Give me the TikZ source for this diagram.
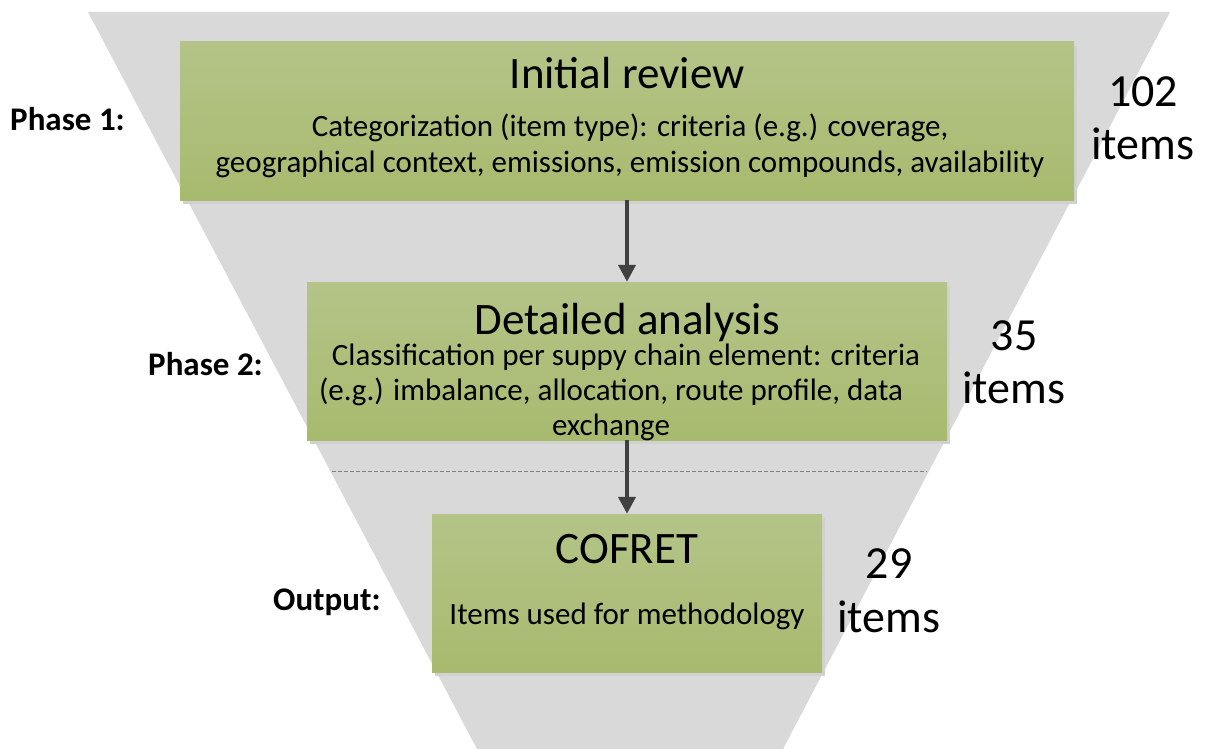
\documentclass[tikz,border=0pt]{standalone}
\usepackage{fontspec}
\setmainfont{Carlito}
\usetikzlibrary{arrows.meta,shadows}
\definecolor{funnel}{HTML}{D9D9D9}
\definecolor{boxtop}{HTML}{B4C488}
\definecolor{boxbot}{HTML}{A8BA6E}
\definecolor{arrowc}{HTML}{404040}
\tikzset{
  greenbox/.style={inner sep=0pt, top color=boxtop, bottom color=boxbot,
    general shadow={fill=black!18, shadow xshift=3pt, shadow yshift=-4pt}},
  title/.style={anchor=base, font=\fontsize{45}{52}\selectfont, inner sep=0pt},
  body/.style={anchor=base, font=\fontsize{31}{35}\selectfont, inner sep=0pt, align=center},
  count/.style={anchor=base, font=\fontsize{46}{52}\selectfont, inner sep=0pt},
  phase/.style={anchor=base west, font=\fontsize{33}{38}\selectfont\bfseries, inner sep=0pt},
  arr/.style={draw=arrowc, line width=4pt, -{Triangle[width=17pt,length=17pt]}},
}
\begin{document}
\begin{tikzpicture}[x=1pt,y=-1pt]
\useasboundingbox (0,0) rectangle (1205,749);
\fill[funnel] (88,12) -- (1170,12) -- (783,749) -- (477,749) -- cycle;
\node[greenbox, minimum width=894pt, minimum height=158pt] (b1) at (627,121) {};
\node[greenbox, minimum width=640pt, minimum height=158pt] (b2) at (627,361) {};
\node[greenbox, minimum width=390pt, minimum height=158pt] (b3) at (627,593) {};
\coordinate (d1) at (332,471);
\coordinate (d2) at (927,471);
\draw[gray, line width=0.8pt, dash pattern=on 4pt off 2pt] (d1) -- (d2);
\draw[arr] (b1.south) -- (b2.north);
\draw[arr] (b2.south) -- (b3.north);
\node[title] (t1) at (627,89) {Initial review};
\node[body] (s1a) at (630,137) {Categorization (item type): criteria (e.g.) coverage,};
\node[body] (s1b) at (630,172) {geographical context, emissions, emission compounds, availability};
\node[title] (t2) at (627,334) {Detailed analysis};
\node[body] (s2a) at (626,365) {Classification per suppy chain element: criteria};
\node[body] (s2b) at (611,400) {(e.g.) imbalance, allocation, route profile, data};
\node[body] (s2c) at (611,435) {exchange};
\node[title] (t3) at (627,563) {COFRET};
\node[body] (s3) at (627,624) {Items used for methodology};
\node[count] (c1a) at (1143,107) {102};
\node[count] (c1b) at (1143,160) {items};
\node[count] (c2a) at (1014,350) {35};
\node[count] (c2b) at (1014,403) {items};
\node[count] (c3a) at (889,578) {29};
\node[count] (c3b) at (889,632) {items};
\node[phase] (p1) at (10,131) {Phase 1:};
\node[phase] (p2) at (148,375) {Phase 2:};
\node[phase] (p3) at (273,610) {Output:};
\end{tikzpicture}
\end{document}
